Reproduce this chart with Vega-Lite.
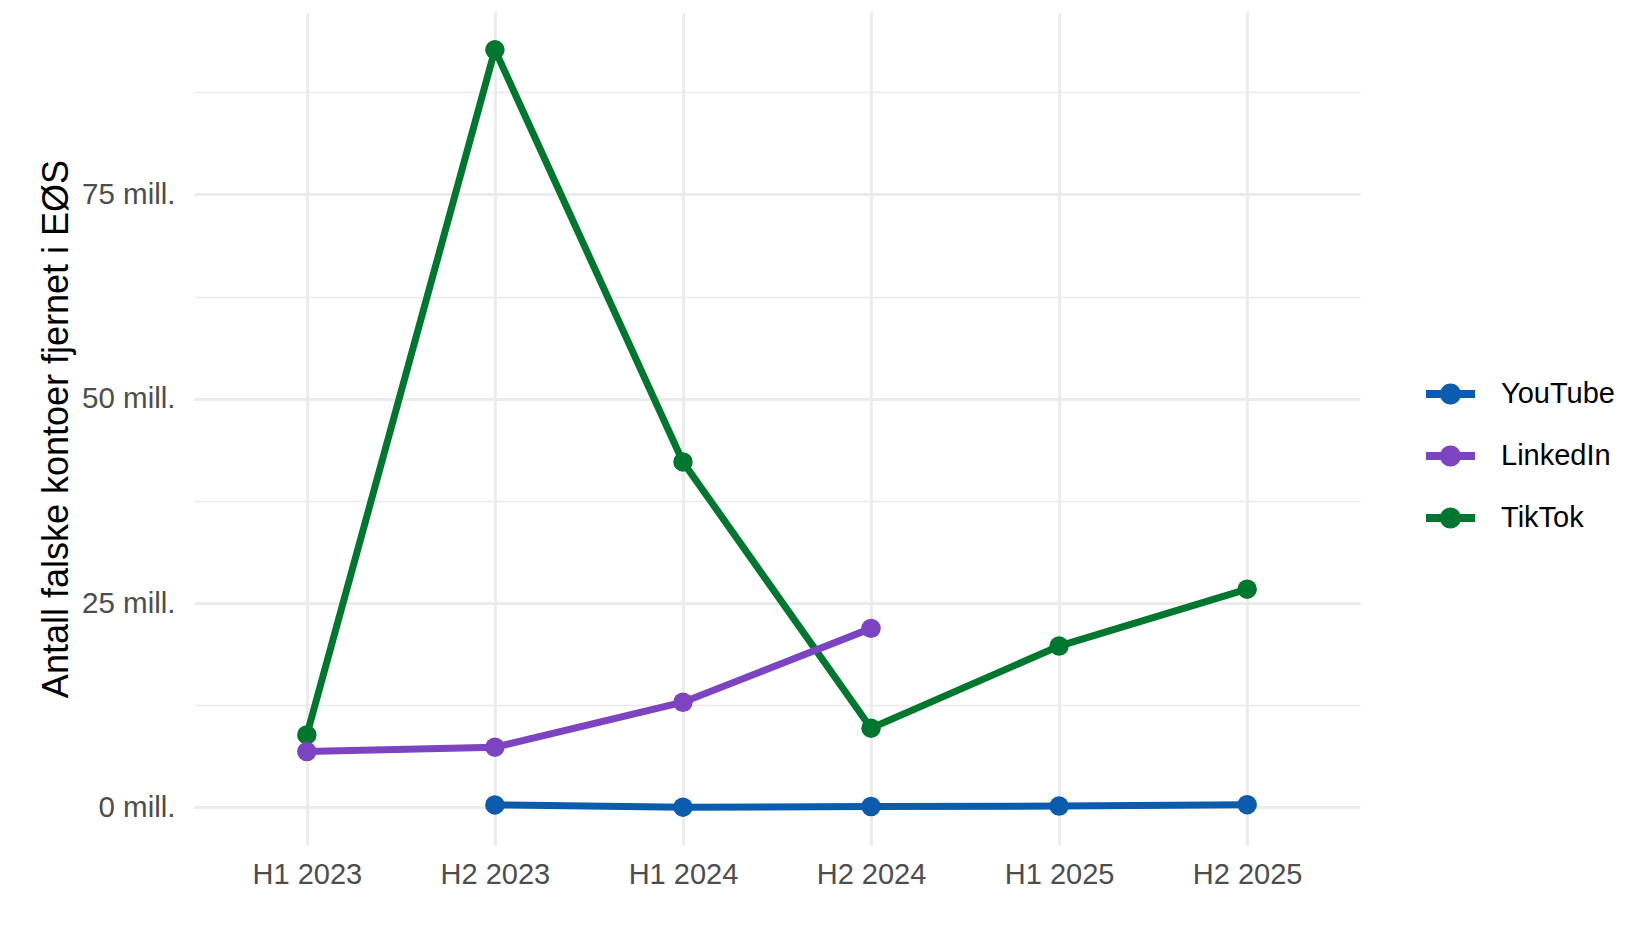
{
  "$schema": "https://vega.github.io/schema/vega-lite/v6.json",
  "autosize": "none",
  "width": 1166,
  "height": 833,
  "padding": {"left": 194, "top": 12, "right": 287, "bottom": 92},
  "background": "white",
  "config": {
    "font": "Liberation Sans",
    "view": {"stroke": null}
  },
  "data": {
    "values": [
      {"period": "H1 2023", "platform": "TikTok", "accounts": 8.86},
      {"period": "H2 2023", "platform": "TikTok", "accounts": 92.7},
      {"period": "H1 2024", "platform": "TikTok", "accounts": 42.27},
      {"period": "H2 2024", "platform": "TikTok", "accounts": 9.68},
      {"period": "H1 2025", "platform": "TikTok", "accounts": 19.74},
      {"period": "H2 2025", "platform": "TikTok", "accounts": 26.7},
      {"period": "H1 2023", "platform": "LinkedIn", "accounts": 6.82},
      {"period": "H2 2023", "platform": "LinkedIn", "accounts": 7.36},
      {"period": "H1 2024", "platform": "LinkedIn", "accounts": 12.86},
      {"period": "H2 2024", "platform": "LinkedIn", "accounts": 21.9},
      {"period": "H2 2023", "platform": "YouTube", "accounts": 0.3},
      {"period": "H1 2024", "platform": "YouTube", "accounts": 0.02},
      {"period": "H2 2024", "platform": "YouTube", "accounts": 0.1},
      {"period": "H1 2025", "platform": "YouTube", "accounts": 0.15},
      {"period": "H2 2025", "platform": "YouTube", "accounts": 0.33}
    ]
  },
  "encoding": {
    "x": {
      "field": "period",
      "type": "ordinal",
      "sort": ["H1 2023", "H2 2023", "H1 2024", "H2 2024", "H1 2025", "H2 2025"],
      "scale": {"type": "point", "padding": 0.6},
      "axis": {
        "title": null,
        "labelAngle": 0,
        "labelFontSize": 29,
        "labelColor": "#4D4D4D",
        "labelPadding": 15,
        "ticks": false,
        "domain": false,
        "grid": true,
        "gridColor": "#EBEBEB",
        "gridWidth": 2.8
      }
    },
    "y": {
      "field": "accounts",
      "type": "quantitative",
      "scale": {"domain": [-4.61, 97.33], "nice": false, "zero": false},
      "axis": {
        "title": "Antall falske kontoer fjernet i EØS",
        "titleFontSize": 36,
        "titleFontWeight": "normal",
        "titleColor": "black",
        "titleAngle": -90,
        "titleAlign": "center",
        "titleBaseline": "middle",
        "titleX": -137.5,
        "titleY": 416.5,
        "values": [0, 12.5, 25, 37.5, 50, 62.5, 75, 87.5],
        "labelExpr": "datum.value % 25 === 0 ? datum.value + ' mill.' : ''",
        "labelFontSize": 29.5,
        "labelColor": "#4D4D4D",
        "labelPadding": 19,
        "ticks": false,
        "domain": false,
        "grid": true,
        "gridColor": "#EBEBEB",
        "gridWidth": {"condition": {"test": "datum.value % 25 !== 0", "value": 1.4}, "value": 2.8}
      }
    },
    "color": {
      "field": "platform",
      "type": "nominal",
      "scale": {
        "domain": ["YouTube", "LinkedIn", "TikTok"],
        "range": ["#0B5CAD", "#7D44C2", "#00772E"]
      },
      "legend": {
        "title": null,
        "orient": "none",
        "legendX": 1232,
        "legendY": 357.5,
        "padding": 0,
        "rowPadding": 22,
        "labelOffset": 26,
        "labelFontSize": 29,
        "labelColor": "black",
        "symbolType": "M-1,-0.16H1V0.16H-1Z M-0.43,0A0.43,0.43 0 1,1 0.43,0A0.43,0.43 0 1,1 -0.43,0Z",
        "symbolSize": 2401,
        "symbolStrokeWidth": 0,
        "symbolOpacity": 1,
        "encode": {
          "symbols": {
            "update": {
              "fill": {"scale": "color", "field": "value"},
              "fillOpacity": {"value": 1},
              "strokeWidth": {"value": 0}
            }
          }
        }
      }
    }
  },
  "layer": [
    {
      "mark": {"type": "line", "strokeWidth": 7}
    },
    {
      "mark": {"type": "point", "filled": true, "size": 380, "opacity": 1}
    }
  ]
}
